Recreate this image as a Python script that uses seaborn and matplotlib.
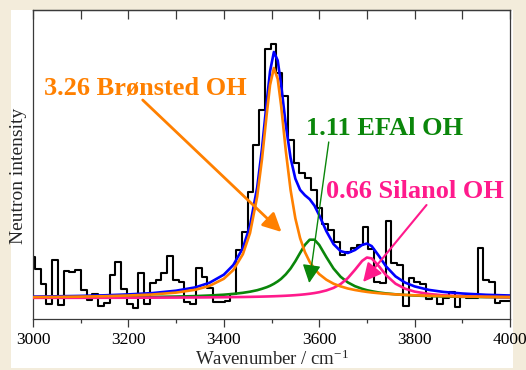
import numpy as np
import matplotlib
matplotlib.use("Agg")
import matplotlib.pyplot as plt
import seaborn as sns
from matplotlib.patches import Rectangle
from matplotlib.ticker import MultipleLocator

# ---------------- data ----------------
# measured neutron spectrum (histogram, bin width ~12 cm-1)
hist_start = 2998.0
hist_step = 12.05
hist_counts = [4.1, 2.9, 1.4, -0.6, 3.8, -0.7, 2.7, 2.6, 2.8, 0.8,
               -0.2, 0.4, -0.8, -0.5, 2.3, 3.6, 0.9, -0.6, -1.0, 2.5,
               -0.6, 1.5, 1.8, 2.5, 4.2, 1.8, 1.6, -0.4, -0.6, 3.0,
               2.1, 1.0, -0.4, -0.4, -0.3, 0.4, 4.8, 6.6, 10.6, 15.3,
               18.8, 24.9, 25.4, 22.5, 20.2, 15.8, 13.5, 12.5, 12.0, 10.8,
               9.0, 7.4, 6.8, 5.6, 4.3, 4.6, 5.0, 5.3, 7.1, 4.9,
               1.6, 1.5, 7.7, 3.5, 3.3, -0.8, 2.0, 1.6, 1.4, -0.1,
               0.3, -0.6, 0.0, 0.6, -0.9, 0.2, 0.0, 0.0, 5.0, 1.8,
               1.6, -0.5, -0.3, -0.3, -0.3]
hist_wavenumber = hist_start + hist_step * np.arange(len(hist_counts))

# fitted components, sampled along the wavenumber axis
fit_wavenumber = [3000, 3050, 3100, 3150, 3200, 3250, 3300, 3340, 3370, 3400,
                  3420, 3440, 3455, 3470, 3480, 3490, 3497, 3505, 3513, 3520,
                  3530, 3540, 3550, 3560, 3570, 3580, 3590, 3600, 3615, 3630,
                  3645, 3660, 3675, 3690, 3700, 3710, 3725, 3740, 3760, 3780,
                  3800, 3830, 3860, 3900, 3950, 4000]
bronsted_fit = [0.09, 0.11, 0.14, 0.18, 0.25, 0.35, 0.54, 0.82, 1.21, 1.92,
                2.80, 4.38, 6.50, 10.15, 13.85, 18.4, 21.3, 23.0, 21.9, 19.3,
                14.7, 10.8, 7.96, 5.98, 4.6, 3.62, 2.92, 2.39, 1.83, 1.43,
                1.16, 0.95, 0.80, 0.68, 0.61, 0.55, 0.48, 0.42, 0.36, 0.31,
                0.27, 0.22, 0.19, 0.15, 0.12, 0.10]
efal_fit = [0.035, 0.041, 0.05, 0.062, 0.079, 0.105, 0.144, 0.19, 0.25, 0.33,
            0.41, 0.52, 0.63, 0.78, 0.92, 1.08, 1.22, 1.42, 1.66, 1.91,
            2.37, 2.95, 3.68, 4.51, 5.31, 5.83, 5.83, 5.31, 4.09, 2.95,
            2.12, 1.56, 1.18, 0.92, 0.78, 0.68, 0.55, 0.46, 0.37, 0.30,
            0.25, 0.19, 0.154, 0.118, 0.088, 0.069]
silanol_fit = [0.015, 0.017, 0.02, 0.023, 0.028, 0.035, 0.044, 0.054, 0.064, 0.077,
               0.088, 0.10, 0.113, 0.128, 0.139, 0.152, 0.162, 0.175, 0.19, 0.204,
               0.226, 0.253, 0.285, 0.323, 0.369, 0.425, 0.494, 0.58, 0.755, 1.01,
               1.40, 1.99, 2.82, 3.71, 4.05, 3.96, 3.19, 2.29, 1.43, 0.93,
               0.64, 0.40, 0.27, 0.177, 0.114, 0.08]
total_fit = [0.14, 0.17, 0.21, 0.27, 0.36, 0.49, 0.73, 1.06, 1.52, 2.33,
             3.30, 5.0, 7.24, 11.06, 14.91, 19.63, 22.68, 24.6, 23.75, 21.41,
             17.3, 14.0, 11.93, 10.81, 10.28, 9.88, 9.24, 8.28, 6.68, 5.39,
             4.68, 4.50, 4.80, 5.31, 5.44, 5.19, 4.22, 3.17, 2.16, 1.54,
             1.16, 0.81, 0.61, 0.45, 0.32, 0.25]

label_bronsted = "3.26 Br\u00f8nsted OH"
label_efal = "1.11 EFAl OH"
label_silanol = "0.66 Silanol OH"
x_label = r"Wavenumber / cm$^{-1}$"
y_label = "Neutron intensity"

# ---------------- style ----------------
sns.set_theme(style="white")
plt.rcParams["font.family"] = ["Liberation Serif", "DejaVu Serif"]
plt.rcParams["mathtext.fontset"] = "custom"
plt.rcParams["mathtext.rm"] = "Liberation Serif"
plt.rcParams["mathtext.it"] = "Liberation Serif:italic"
plt.rcParams["mathtext.bf"] = "Liberation Serif:bold"

C_ORANGE = "#ff8000"
C_GREEN = "#0a860a"
C_PINK = "#ff1a8c"
C_BLUE = "#0000ff"
C_BG = "#f3ecdb"
C_SPINE = "#3a3a3a"

W, H = 526, 370
fig = plt.figure(figsize=(W / 100, H / 100), dpi=100)
fig.patch.set_facecolor(C_BG)
fig.add_artist(Rectangle((11 / W, 2 / H), 502 / W, 358 / H, transform=fig.transFigure,
                         facecolor="white", edgecolor="none", zorder=0))

ax = fig.add_axes([33 / W, 51 / H, 477 / W, 309 / H])
ax.set_facecolor("white")

sns.lineplot(x=hist_wavenumber, y=hist_counts, ax=ax, color="black", lw=1.5,
             drawstyle="steps-mid", estimator=None, sort=False, zorder=2)
sns.lineplot(x=fit_wavenumber, y=total_fit, ax=ax, color=C_BLUE, lw=1.9,
             estimator=None, sort=False, zorder=3)
sns.lineplot(x=fit_wavenumber, y=efal_fit, ax=ax, color=C_GREEN, lw=1.9,
             estimator=None, sort=False, zorder=4)
sns.lineplot(x=fit_wavenumber, y=silanol_fit, ax=ax, color=C_PINK, lw=1.9,
             estimator=None, sort=False, zorder=4)
sns.lineplot(x=fit_wavenumber, y=bronsted_fit, ax=ax, color=C_ORANGE, lw=1.9,
             estimator=None, sort=False, zorder=5)

ax.set_xlim(3000, 4000)
ax.set_ylim(-2.1, 28.8)
ax.set_yticks([])

ax.xaxis.set_major_locator(MultipleLocator(200))
ax.xaxis.set_minor_locator(MultipleLocator(100))
ax.tick_params(axis="x", which="major", direction="out", length=6, width=0.9,
               color=C_SPINE, labelsize=12.5, pad=3, labelcolor="black")
ax.tick_params(axis="x", which="minor", direction="out", length=3, width=0.9,
               color=C_SPINE)
ax.tick_params(axis="x", which="both", bottom=True, top=False)

top = ax.secondary_xaxis("top")
top.xaxis.set_major_locator(MultipleLocator(100))
top.tick_params(axis="x", which="both", direction="in", length=6.5, width=0.9,
                color=C_SPINE, labeltop=False)
for s in top.spines.values():
    s.set_color(C_SPINE)
    s.set_linewidth(0.9)

for s in ax.spines.values():
    s.set_color(C_SPINE)
    s.set_linewidth(0.9)

ax.set_xlabel(x_label, fontsize=13.5)
ax.xaxis.set_label_coords(0.5, -0.10)
ax.xaxis.label.set_va("top")
ax.set_ylabel(y_label, fontsize=14)
ax.yaxis.set_label_coords(-0.012, 0.464)

# annotations
ax.text(3023, 20.3, label_bronsted, color=C_ORANGE, fontsize=19, fontweight="bold",
        ha="left", va="baseline", zorder=6)
ax.text(3572, 16.3, label_efal, color=C_GREEN, fontsize=19, fontweight="bold",
        ha="left", va="baseline", zorder=6)
ax.text(3614, 9.97, label_silanol, color=C_PINK, fontsize=19, fontweight="bold",
        ha="left", va="baseline", zorder=6)

ax.annotate("", xy=(3521, 6.6), xytext=(3230, 19.8),
            arrowprops=dict(arrowstyle="-|>,head_length=0.7,head_width=0.35",
                            color=C_ORANGE, lw=2.0, shrinkA=0, shrinkB=0,
                            mutation_scale=16), zorder=6)
ax.annotate("", xy=(3579, 1.5), xytext=(3620, 15.6),
            arrowprops=dict(arrowstyle="-|>,head_length=0.7,head_width=0.35",
                            color=C_GREEN, lw=1.0, shrinkA=0, shrinkB=0,
                            mutation_scale=16), zorder=6)
ax.annotate("", xy=(3692, 1.6), xytext=(3825, 9.3),
            arrowprops=dict(arrowstyle="-|>,head_length=0.7,head_width=0.35",
                            color=C_PINK, lw=1.5, shrinkA=0, shrinkB=0,
                            mutation_scale=16), zorder=6)

fig.savefig("out.png", dpi=100, facecolor=fig.get_facecolor())
